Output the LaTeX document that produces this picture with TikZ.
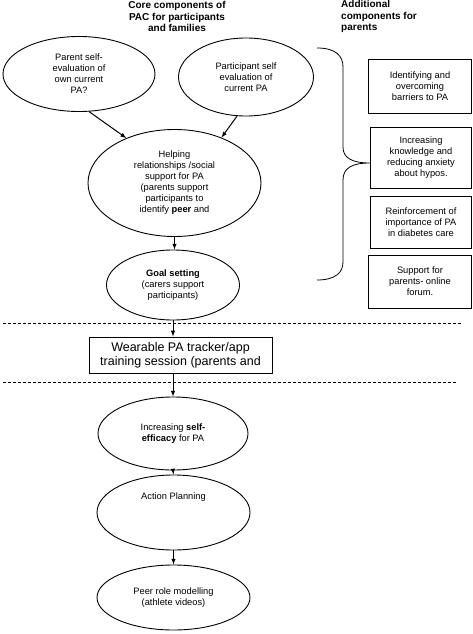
\documentclass[tikz,border=0pt]{standalone}
\usepackage{fontspec}
\setmainfont{Liberation Sans}
\usetikzlibrary{shapes}

\begin{document}
\begin{tikzpicture}[x=1pt,y=-1pt,
	bubble/.style={ellipse,draw,line width=.9pt,inner sep=0pt,align=center,font=\fontsize{9.3}{11}\selectfont},
	extra/.style={rectangle,draw,line width=.8pt,inner sep=0pt,align=center,font=\fontsize{9.3}{11}\selectfont},
	head/.style={inner sep=0pt,font=\bfseries\fontsize{10}{11.5}\selectfont},
	arr/.style={->,>=latex,line width=1pt},
	sep/.style={dash pattern=on 3pt off 2pt,line width=.8pt}]
	\useasboundingbox (0,0) rectangle (473,634);
	
	% draw headers
	\node[head,align=center] (corehead) at (177,16.5) {Core components of\\PAC for participants\\and families};
	\node[head,align=left,anchor=west] (addhead) at (341,16.5) {Additional\\components for\\parents};
	
	% draw core nodes
	\node[bubble,minimum width=152pt,minimum height=75pt] (parent) at (79,74) {Parent self-\\evaluation of\\own current\\PA?};
	\node[bubble,minimum width=135pt,minimum height=78pt] (child) at (246,77) {Participant self\\evaluation of\\current PA};
	\node[bubble,minimum width=173pt,minimum height=107pt] (help) at (174.5,183) {Helping\\relationships /social\\support for PA\\(parents support\\participants to\\identify \textbf{peer} and};
	\node[bubble,minimum width=133pt,minimum height=70pt] (goal) at (173,285) {\textbf{Goal setting}\\(carers support\\participants)};
	\node[draw,line width=1pt,minimum width=183pt,minimum height=36pt,inner sep=0pt,align=center,font=\fontsize{12.5}{14}\selectfont] (wear) at (180.5,355) {Wearable PA tracker/app\\training session (parents and};
	\node[bubble,minimum width=150pt,minimum height=73pt] (eff) at (173,433.5) {Increasing \textbf{self-}\\\textbf{efficacy} for PA};
	\node[bubble,minimum width=153pt,minimum height=75pt] (plan) at (173.5,512.5) {};
	\node[font=\fontsize{9.3}{11}\selectfont] (plantext) at ([yshift=15pt]plan.center) {Action Planning};
	\node[bubble,minimum width=153pt,minimum height=65pt] (peer) at (173.5,597.5) {Peer role modelling\\(athlete videos)};
	
	% draw parent nodes
	\node[extra,minimum width=103pt,minimum height=54pt] (barrier) at (420,86) {Identifying and\\overcoming\\barriers to PA};
	\node[extra,minimum width=101pt,minimum height=61pt] (hypo) at (421,157.5) {Increasing\\knowledge and\\reducing anxiety\\about hypos.};
	\node[extra,minimum width=101pt,minimum height=52pt] (care) at (421,222) {Reinforcement of\\importance of PA\\in diabetes care};
	\node[extra,minimum width=103pt,minimum height=53pt] (forum) at (420,281.5) {Support for\\parents- online\\forum.};
	
	% draw brace
	\draw[line width=.8pt] (317,48) .. controls (336,48) and (343,56) .. (343,67) -- (343,147)
		.. controls (343,158) and (352,163) .. (370,163) .. controls (352,163) and (343,168) .. (343,180)
		-- (343,262) .. controls (343,272) and (336,280) .. (317,280);
	
	% draw dashed lines
	\draw[sep] (3,323) -- (462,323);
	\draw[sep] (3,382) -- (457,382);
	
	% draw arrows
	\draw[arr] (parent.-75) -- (help.137);
	\draw[arr] (child.-103) -- (help.44);
	\draw[arr] (help.south) -- (help.south |- goal.north);
	\draw[arr] (goal.south) -- (goal.south |- wear.north);
	\draw[arr] (wear.south -| eff.north) -- (eff.north);
	\draw[arr] (eff.south) -- (plan.north);
	\draw[arr] (plan.south) -- (peer.north);
\end{tikzpicture}
\end{document}
